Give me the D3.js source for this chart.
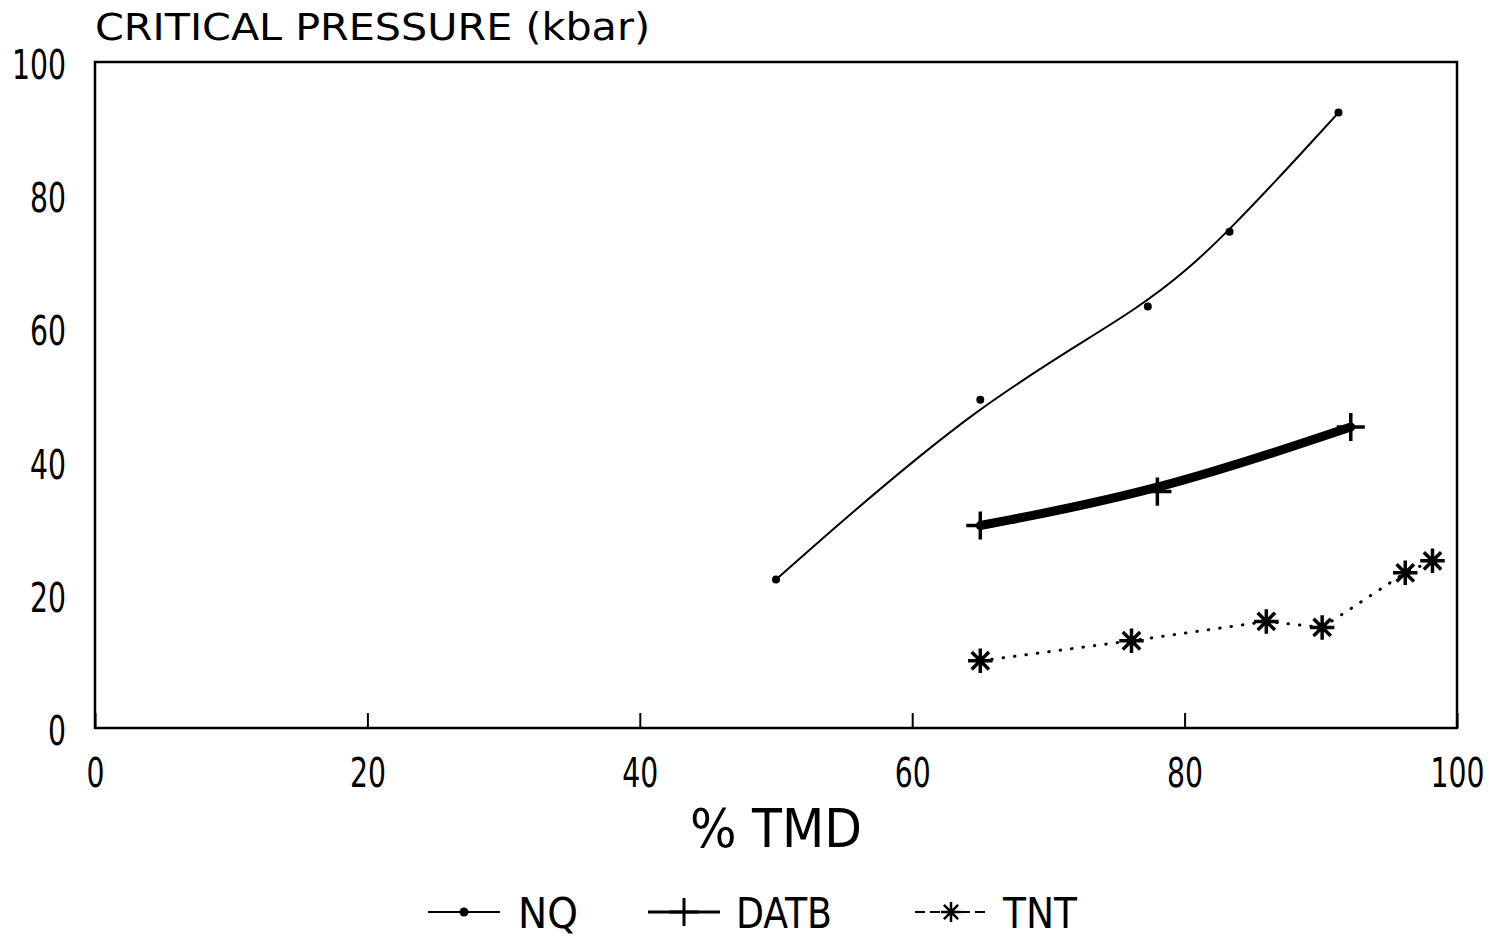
<!DOCTYPE html>
<html>
<head>
<meta charset="utf-8">
<script src="https://cdn.jsdelivr.net/npm/d3@7"></script>
<style>
  body { margin: 0; background: #fff; }
  text { font-family: "Liberation Sans Narrow", "DejaVu Sans Condensed", "Liberation Sans", sans-serif; fill: #000; }
</style>
</head>
<body>
<div class="container"></div>
<script>
// values
const nqTmd = [50, 65, 77.3, 83.3, 91.3];
const nqPressure = [22.3, 49.3, 63.3, 74.5, 92.4];

const datbTmd = [65, 78, 92.2];
const datbPressure = [30.4, 35.5, 45.2];

const tntTmd = [65, 76.1, 86, 90.1, 96.2, 98.2];
const tntPressure = [10.1, 13.1, 16, 15.1, 23.3, 25.1];

const xTicks = [0, 20, 40, 60, 80, 100];
const yTicks = [0, 20, 40, 60, 80, 100];

const legendNames = ["NQ", "DATB", "TNT"];

const margin = {top: 62, bottom: 209, right: 43, left: 95},
width = 1500 - margin.left - margin.right,
height = 937 - margin.top - margin.bottom;

const svg = d3
.select(".container")
.append("svg")
.attr("width", 1500)
.attr("height", 937);

const group = svg
.append("g")
.attr("transform", `translate(${margin.left},${margin.top})`);

const x_scale = d3.scaleLinear().domain([0, 100]).range([0, width]);
const y_scale = d3.scaleLinear().domain([0, 100]).range([height, 0]);

const zip = (xs, ys) => xs.map((v, i) => ({x: v, y: ys[i]}));
const nq = zip(nqTmd, nqPressure);
const datb = zip(datbTmd, datbPressure);
const tnt = zip(tntTmd, tntPressure);

// narrow plotter-style digits
const digitWidth = d => String(d).length * 18;

// eight-armed star, as the plotter drew it
const star8 = {
    draw(context, size) {
        const r = Math.sqrt(size) / 2;
        const d = r * Math.SQRT1_2;
        context.moveTo(0, -r); context.lineTo(0, r);
        context.moveTo(-r, 0); context.lineTo(r, 0);
        context.moveTo(-d, -d); context.lineTo(d, d);
        context.moveTo(-d, d); context.lineTo(d, -d);
    }
};

// frame
group.append("rect")
    .attr("width", width)
    .attr("height", height)
    .attr("fill", "none")
    .attr("stroke", "#000")
    .attr("stroke-width", 2.5);

const x_axis = d3.axisBottom(x_scale)
    .tickValues(xTicks)
    .tickSizeInner(-15)
    .tickSizeOuter(0)
    .tickPadding(30);

group.append("g")
    .attr("transform", `translate(0,${height})`)
    .call(x_axis)
    .call(g => g.select(".domain").remove())
    .call(g => g.selectAll(".tick line").attr("stroke", "#000").attr("stroke-width", 2))
    .call(g => g.selectAll(".tick text")
        .attr("font-size", 41)
        .attr("fill", "#000")
        .attr("textLength", digitWidth)
        .attr("lengthAdjust", "spacingAndGlyphs"));

const y_axis = d3.axisLeft(y_scale)
    .tickValues(yTicks)
    .tickSize(0)
    .tickPadding(29);

group.append("g")
    .call(y_axis)
    .call(g => g.select(".domain").remove())
    .call(g => g.selectAll(".tick text")
        .attr("font-size", 41)
        .attr("dy", "0.4em")
        .attr("fill", "#000")
        .attr("textLength", digitWidth)
        .attr("lengthAdjust", "spacingAndGlyphs"));

// axis titles
svg.append("text")
    .attr("x", 95)
    .attr("y", 40)
    .attr("font-size", 37)
    .attr("textLength", 555)
    .attr("lengthAdjust", "spacingAndGlyphs")
    .text("CRITICAL PRESSURE (kbar)");

svg.append("text")
    .attr("x", margin.left + x_scale(50))
    .attr("y", 847)
    .attr("text-anchor", "middle")
    .attr("font-size", 53)
    .attr("textLength", 172)
    .attr("lengthAdjust", "spacingAndGlyphs")
    .text("% TMD");

const smooth = d3.line()
    .curve(d3.curveBasis)
    .x(d => x_scale(d.x))
    .y(d => y_scale(d.y));

const straight = d3.line()
    .x(d => x_scale(d.x))
    .y(d => y_scale(d.y));

// NQ
group.append("path")
    .datum(nq)
    .attr("fill", "none")
    .attr("stroke", "#000")
    .attr("stroke-width", 2)
    .attr("d", smooth);

group.selectAll(".nq")
    .data(nq)
    .join("circle")
    .attr("class", "nq")
    .attr("cx", d => x_scale(d.x))
    .attr("cy", d => y_scale(d.y))
    .attr("r", 4)
    .attr("fill", "#000");

// DATB
group.append("path")
    .datum(datb)
    .attr("fill", "none")
    .attr("stroke", "#000")
    .attr("stroke-width", 9)
    .attr("stroke-linecap", "round")
    .attr("d", smooth);

const plus = d3.symbol().type(d3.symbolPlus).size(260);
group.selectAll(".datb")
    .data(datb)
    .join("path")
    .attr("class", "datb")
    .attr("transform", d => `translate(${x_scale(d.x)},${y_scale(d.y)})`)
    .attr("d", plus)
    .attr("fill", "none")
    .attr("stroke", "#000")
    .attr("stroke-width", 3.5);

// TNT
group.append("path")
    .datum(tnt)
    .attr("fill", "none")
    .attr("stroke", "#000")
    .attr("stroke-width", 3)
    .attr("stroke-linecap", "round")
    .attr("stroke-dasharray", "0.5,11")
    .attr("d", straight);

const star = d3.symbol().type(star8).size(600);
group.selectAll(".tnt")
    .data(tnt)
    .join("path")
    .attr("class", "tnt")
    .attr("transform", d => `translate(${x_scale(d.x)},${y_scale(d.y)})`)
    .attr("d", star)
    .attr("fill", "none")
    .attr("stroke", "#000")
    .attr("stroke-width", 3.5);

// legend
const legendX = [428, 648, 915];
const legendWidth = [60, 96, 74];
const legend = svg.append("g")
    .selectAll("g")
    .data(legendNames)
    .join("g")
    .attr("transform", (d, i) => `translate(${legendX[i]},912)`);

legend.append("line")
    .attr("x1", 0)
    .attr("x2", 72)
    .attr("stroke", "#000")
    .attr("stroke-width", (d, i) => i === 1 ? 3 : 2)
    .attr("stroke-dasharray", (d, i) => i === 2 ? "10,5" : null);

legend.filter((d, i) => i === 0)
    .append("circle")
    .attr("cx", 36)
    .attr("r", 4.5)
    .attr("fill", "#000");

legend.filter((d, i) => i === 1)
    .append("path")
    .attr("transform", "translate(36,0)")
    .attr("d", plus)
    .attr("fill", "none")
    .attr("stroke", "#000")
    .attr("stroke-width", 3);

legend.filter((d, i) => i === 2)
    .append("path")
    .attr("transform", "translate(36,0)")
    .attr("d", d3.symbol().type(star8).size(400))
    .attr("fill", "none")
    .attr("stroke", "#000")
    .attr("stroke-width", 2.5);

legend.append("text")
    .attr("x", (d, i) => i === 0 ? 90 : 88)
    .attr("y", 16)
    .attr("font-size", 42)
    .attr("textLength", (d, i) => legendWidth[i])
    .attr("lengthAdjust", "spacingAndGlyphs")
    .text(d => d);
</script>
</body>
</html>
